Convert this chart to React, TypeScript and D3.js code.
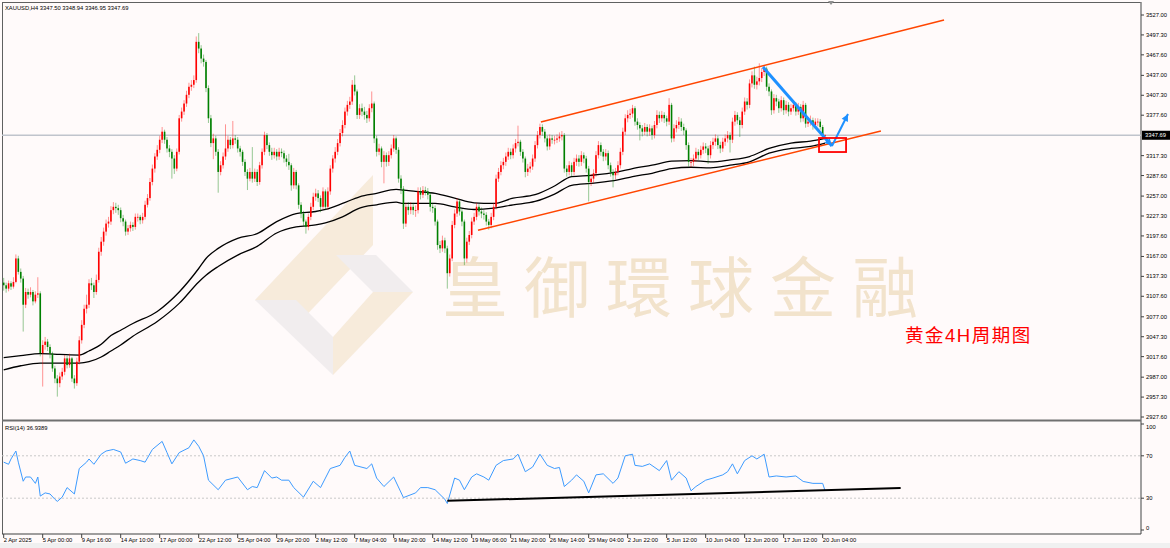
import * as d3 from 'd3';

// chart data: XAUUSD H4, 2 Apr 2025 - 20 Jun 2025
const firstOpen = 3128;
const closes = [
  3124, 3119, 3127, 3122, 3129, 3164, 3144, 3134, 3095, 3114, 3110, 3114, 3100, 3110, 3112, 3023,
  3035, 3040, 3032, 3022, 3000, 2985, 2978, 2988, 2995, 3015, 3005, 3015, 2985, 2978, 3010, 3042,
  3065, 3089, 3095, 3127, 3124, 3114, 3132, 3174, 3189, 3204, 3216, 3219, 3236, 3241, 3239, 3236,
  3224, 3219, 3204, 3209, 3214, 3211, 3226, 3226, 3221, 3226, 3244, 3254, 3278, 3298, 3316, 3326,
  3341, 3353, 3341, 3328, 3323, 3313, 3298, 3323, 3373, 3383, 3395, 3408, 3420, 3423, 3430, 3487,
  3477, 3462, 3457, 3418, 3373, 3336, 3343, 3323, 3293, 3303, 3316, 3328, 3341, 3333, 3343, 3341,
  3328, 3323, 3308, 3293, 3283, 3293, 3283, 3293, 3278, 3303, 3323, 3348, 3333, 3323, 3318, 3323,
  3316, 3323, 3321, 3313, 3308, 3303, 3273, 3293, 3273, 3244, 3231, 3219, 3211, 3226, 3241, 3256,
  3261, 3254, 3241, 3264, 3241, 3264, 3298, 3313, 3323, 3336, 3351, 3363, 3383, 3393, 3398, 3423,
  3413, 3378, 3388, 3383, 3378, 3373, 3388, 3395, 3343, 3323, 3328, 3308, 3318, 3308, 3318, 3328,
  3343, 3326, 3283, 3268, 3216, 3241, 3236, 3241, 3236, 3236, 3264, 3259, 3266, 3264, 3259, 3241,
  3239, 3219, 3184, 3179, 3191, 3179, 3142, 3164, 3214, 3231, 3249, 3234, 3219, 3164, 3189, 3199,
  3219, 3226, 3241, 3234, 3231, 3229, 3219, 3214, 3226, 3241, 3283, 3293, 3303, 3308, 3316, 3323,
  3318, 3328, 3336, 3338, 3323, 3313, 3293, 3298, 3301, 3313, 3333, 3348, 3360, 3353, 3343, 3331,
  3343, 3341, 3341, 3343, 3346, 3348, 3298, 3293, 3303, 3293, 3308, 3313, 3308, 3318, 3313, 3298,
  3278, 3283, 3291, 3318, 3333, 3323, 3316, 3321, 3303, 3293, 3288, 3293, 3303, 3323, 3353, 3373,
  3378, 3380, 3388, 3368, 3363, 3358, 3353, 3360, 3353, 3358, 3348, 3363, 3378, 3373, 3378, 3373,
  3368, 3393, 3343, 3358, 3363, 3368, 3360, 3355, 3333, 3308, 3308, 3313, 3323, 3318, 3326, 3331,
  3328, 3318, 3333, 3338, 3343, 3333, 3328, 3338, 3343, 3348, 3341, 3368, 3378, 3370, 3363, 3383,
  3398, 3393, 3425, 3437, 3423, 3428, 3433, 3442, 3447, 3420, 3413, 3385, 3403, 3398, 3388, 3400,
  3385, 3393, 3383, 3388, 3393, 3383, 3390, 3373, 3393, 3365, 3368, 3370, 3363, 3368, 3368, 3360,
  3347.5, 3347.69,
];
const highs = [
  3135, 3128, 3131, 3130, 3136, 3170, 3168, 3149, 3138, 3120, 3119, 3121, 3117, 3115, 3136, 3115,
  3042, 3047, 3044, 3036, 3025, 3004, 2990, 2994, 3001, 3020, 3019, 3022, 3017, 2990, 3016, 3048,
  3072, 3095, 3110, 3133, 3135, 3128, 3140, 3180, 3196, 3210, 3222, 3226, 3242, 3248, 3247, 3244,
  3240, 3229, 3222, 3214, 3219, 3218, 3231, 3231, 3229, 3232, 3250, 3260, 3284, 3304, 3321, 3333,
  3347, 3360, 3356, 3345, 3333, 3327, 3318, 3328, 3378, 3389, 3400, 3414, 3426, 3430, 3437, 3495,
  3500, 3482, 3468, 3460, 3422, 3378, 3350, 3347, 3327, 3309, 3322, 3364, 3347, 3345, 3369, 3348,
  3345, 3332, 3326, 3312, 3297, 3299, 3330, 3298, 3297, 3308, 3328, 3353, 3351, 3337, 3329, 3329,
  3327, 3329, 3328, 3325, 3318, 3320, 3306, 3299, 3296, 3276, 3248, 3235, 3222, 3231, 3247, 3262,
  3268, 3266, 3258, 3270, 3267, 3270, 3303, 3318, 3330, 3342, 3357, 3370, 3389, 3399, 3405, 3430,
  3437, 3416, 3394, 3395, 3390, 3384, 3394, 3413, 3398, 3347, 3335, 3331, 3324, 3322, 3324, 3334,
  3348, 3346, 3330, 3288, 3272, 3247, 3248, 3248, 3247, 3243, 3270, 3270, 3272, 3271, 3269, 3263,
  3247, 3243, 3222, 3190, 3198, 3195, 3183, 3170, 3220, 3237, 3254, 3252, 3238, 3222, 3195, 3205,
  3225, 3232, 3247, 3245, 3240, 3236, 3233, 3223, 3232, 3247, 3289, 3299, 3309, 3314, 3322, 3329,
  3328, 3334, 3342, 3362, 3341, 3327, 3316, 3305, 3308, 3319, 3339, 3354, 3365, 3364, 3357, 3347,
  3349, 3348, 3347, 3349, 3352, 3354, 3351, 3303, 3309, 3307, 3314, 3319, 3318, 3324, 3322, 3317,
  3302, 3290, 3297, 3324, 3339, 3337, 3327, 3327, 3325, 3307, 3297, 3299, 3309, 3329, 3359, 3379,
  3385, 3387, 3393, 3391, 3373, 3367, 3363, 3366, 3364, 3364, 3362, 3369, 3385, 3383, 3384, 3382,
  3377, 3403, 3396, 3364, 3370, 3375, 3373, 3365, 3358, 3337, 3314, 3319, 3329, 3327, 3332, 3337,
  3336, 3332, 3339, 3344, 3349, 3347, 3338, 3344, 3349, 3354, 3352, 3374, 3384, 3382, 3375, 3389,
  3404, 3403, 3431, 3443, 3450, 3435, 3455, 3448, 3451, 3450, 3425, 3416, 3409, 3408, 3402, 3406,
  3404, 3399, 3397, 3394, 3399, 3397, 3396, 3394, 3399, 3396, 3374, 3377, 3374, 3373, 3373, 3372,
  3363, 3348.94,
];
const lows = [
  3116, 3113, 3115, 3117, 3119, 3127, 3140, 3128, 3055, 3090, 3104, 3106, 3094, 3097, 3105, 3018,
  2973, 3028, 3026, 3015, 2995, 2978, 2958, 2972, 2983, 2990, 3000, 3001, 2980, 2970, 2974, 3006,
  3037, 3060, 3082, 3090, 3117, 3105, 3110, 3128, 3168, 3183, 3198, 3210, 3214, 3230, 3232, 3229,
  3218, 3212, 3198, 3199, 3204, 3205, 3207, 3219, 3215, 3216, 3222, 3240, 3250, 3273, 3292, 3311,
  3321, 3336, 3335, 3322, 3315, 3283, 3290, 3294, 3319, 3368, 3378, 3390, 3403, 3414, 3418, 3426,
  3470, 3455, 3450, 3412, 3366, 3330, 3312, 3317, 3262, 3288, 3298, 3311, 3323, 3327, 3328, 3335,
  3322, 3316, 3302, 3287, 3266, 3279, 3277, 3278, 3272, 3274, 3298, 3318, 3327, 3317, 3311, 3313,
  3310, 3311, 3315, 3307, 3301, 3296, 3265, 3268, 3267, 3238, 3224, 3212, 3201, 3206, 3221, 3236,
  3250, 3248, 3233, 3237, 3236, 3237, 3259, 3292, 3307, 3318, 3331, 3346, 3358, 3377, 3387, 3393,
  3407, 3372, 3372, 3376, 3371, 3366, 3368, 3382, 3336, 3316, 3318, 3300, 3276, 3301, 3302, 3313,
  3323, 3320, 3277, 3260, 3208, 3211, 3229, 3230, 3229, 3226, 3231, 3252, 3254, 3258, 3252, 3234,
  3232, 3213, 3177, 3172, 3174, 3172, 3119, 3137, 3160, 3209, 3226, 3228, 3212, 3154, 3158, 3184,
  3194, 3214, 3221, 3228, 3224, 3222, 3213, 3207, 3209, 3221, 3237, 3278, 3288, 3297, 3302, 3311,
  3312, 3313, 3322, 3331, 3317, 3307, 3285, 3287, 3292, 3296, 3308, 3328, 3343, 3347, 3337, 3325,
  3326, 3335, 3334, 3336, 3338, 3340, 3292, 3286, 3288, 3286, 3288, 3302, 3301, 3302, 3306, 3292,
  3249, 3272, 3277, 3286, 3313, 3317, 3309, 3310, 3297, 3286, 3270, 3282, 3288, 3298, 3318, 3348,
  3367, 3372, 3374, 3362, 3356, 3340, 3346, 3348, 3346, 3347, 3341, 3343, 3358, 3366, 3368, 3366,
  3361, 3363, 3337, 3338, 3352, 3357, 3354, 3348, 3326, 3301, 3300, 3302, 3308, 3311, 3313, 3320,
  3321, 3305, 3313, 3327, 3332, 3327, 3321, 3323, 3332, 3337, 3322, 3336, 3362, 3364, 3345, 3358,
  3378, 3386, 3388, 3419, 3417, 3416, 3422, 3427, 3436, 3414, 3406, 3378, 3380, 3391, 3381, 3383,
  3378, 3380, 3376, 3378, 3383, 3377, 3378, 3367, 3368, 3359, 3360, 3362, 3356, 3357, 3361, 3356,
  3343, 3346.95,
];

// moving averages (two black bands)
const maBars = [0, 7, 15, 23, 31, 35, 40, 44, 48, 53, 63, 72, 80, 83, 88, 96, 104, 112, 120, 128,
  132, 139, 146, 153, 161, 164, 169, 177, 185, 193, 201, 209, 218, 226, 233, 241, 252, 258, 266,
  274, 282, 290, 298, 306, 314, 323, 331, 337];
const maHigh = [3016, 3019, 3022, 3021, 3020, 3026, 3036, 3049, 3057, 3067, 3085, 3114, 3149, 3164,
  3179, 3194, 3201, 3219, 3231, 3234, 3237, 3246, 3256, 3261, 3267, 3266, 3264, 3261, 3254, 3247,
  3246, 3254, 3259, 3272, 3286, 3288, 3293, 3298, 3303, 3309, 3310, 3308, 3311, 3316, 3328, 3336,
  3339, 3343];
const maLow = [2998, 3004, 3008, 3008, 3008, 3010, 3017, 3026, 3035, 3048, 3070, 3097, 3129, 3139,
  3152, 3169, 3182, 3202, 3211, 3214, 3217, 3226, 3239, 3244, 3248, 3246, 3246, 3246, 3241, 3237,
  3239, 3244, 3249, 3260, 3273, 3276, 3281, 3286, 3291, 3298, 3300, 3299, 3303, 3308, 3321, 3328,
  3331, 3336];

// RSI(14)
const rsiBars = [0, 2, 3, 5, 6, 8, 9, 11, 13, 14, 15, 17, 19, 21, 22, 24, 26, 29, 31, 34, 35, 37, 40,
  42, 45, 48, 50, 53, 56, 58, 61, 65, 67, 69, 72, 76, 78, 80, 82, 84, 88, 91, 96, 100, 102, 104,
  107, 110, 112, 114, 117, 119, 123, 127, 130, 132, 134, 138, 140, 142, 144, 149, 151, 153, 156,
  160, 164, 169, 171, 174, 177, 181, 182, 185, 187, 189, 192, 194, 197, 199, 202, 205, 209, 211,
  214, 217, 220, 223, 226, 228, 230, 233, 235, 238, 240, 243, 246, 250, 252, 255, 258, 259, 262,
  265, 269, 272, 274, 277, 280, 282, 284, 288, 291, 295, 297, 299, 301, 304, 307, 309, 312, 314,
  317, 321, 325, 328, 332, 336, 337];
const rsiValues = [64, 62, 67, 74.5, 64, 46, 50, 50, 44, 50, 32, 35, 34, 29, 27, 31, 40, 34, 58, 64,
  67, 62, 71.5, 74.5, 76, 73.6, 63, 67, 65.5, 64, 76, 83.6, 73, 62.4, 73, 77.6, 85, 79, 70, 47, 38,
  47, 50, 38, 41, 40, 56, 49, 50, 47, 47, 40, 31, 46, 40, 49, 58, 61, 68.5, 74.5, 61, 58, 62.4, 49,
  41, 50, 30.6, 35, 40, 40, 38, 29, 25, 49, 47, 38, 50, 53, 50, 47, 61, 65.5, 67, 71.5, 55, 59.4,
  71.5, 61, 58, 59, 41, 47, 52, 46, 35, 52, 53, 44, 49, 70, 71.5, 61, 60, 62.4, 56, 65.5, 47, 55,
  49, 37, 41, 47, 49, 52, 55, 62.4, 53, 65.5, 70, 67, 71.5, 50, 51, 50, 51, 45.8, 44, 44, 36.94];

const priceTicks = [3527.0, 3497.3, 3467.6, 3437.0, 3407.3, 3377.6, 3317.3, 3287.6, 3257.0, 3227.3,
  3197.6, 3167.0, 3137.3, 3107.6, 3077.0, 3047.3, 3017.6, 2987.0, 2957.3, 2927.6];
const rsiTicks = [100, 70, 30, 0];
const timeLabels = ['2 Apr 2025', '5 Apr 00:00', '9 Apr 16:00', '14 Apr 10:00', '17 Apr 00:00',
  '22 Apr 12:00', '25 Apr 04:00', '29 Apr 20:00', '2 May 12:00', '7 May 04:00', '9 May 20:00',
  '14 May 12:00', '19 May 06:00', '21 May 20:00', '26 May 14:00', '29 May 04:00', '2 Jun 22:00',
  '5 Jun 12:00', '10 Jun 04:00', '12 Jun 20:00', '17 Jun 12:00', '20 Jun 04:00'];
const barsPerLabel = 16;
const lastPrice = 3347.69;

// drawn objects, in [bar, price]
const channelLow: [number, number][] = [[194.6, 3206], [359.9, 3354]];
const channelHigh: [number, number][] = [[220.4, 3367.5], [385.8, 3519.5]];
const arrowDown: [number, number][] = [[311.5, 3449.5], [339.8, 3331.7]];
const arrowUp: [number, number][] = [[339.8, 3331.7], [346.4, 3379.4]];
const boxBars = [334.5, 345.6];
const boxPrices = [3322.7, 3343.6];
const rsiTrend: [number, number][] = [[182, 27.5], [368, 39.6]];

const W = 1170, H = 548;
const axisX = 1141;
const font = '"Liberation Sans", Arial, sans-serif';
const cjkFont = '"Liberation Sans", "Noto Sans CJK TC", "Noto Sans CJK SC", sans-serif';
const bg = '#fffafa';
const upColor = '#ff0000';
const downColor = '#008000';

export default function App() {
  const x = d3.scaleLinear().domain([0, 337]).range([3.7, 825.1]);
  const y = d3.scaleLinear().domain([2927.6, 3527]).range([417, 15]);
  const yr = d3.scaleLinear().domain([0, 100]).range([530, 424]);

  const candles = closes.map((c, i) => ({
    i, o: i === 0 ? firstOpen : closes[i - 1], c, h: highs[i], l: lows[i],
  }));

  const priceLine = d3.line<[number, number]>().x(d => x(d[0])).y(d => y(d[1]));
  const maLine = d3.line<number>().x((_, k) => x(maBars[k])).curve(d3.curveMonotoneX);
  const rsiLine = d3.line<number>().x((_, k) => x(rsiBars[k])).y(d => yr(d));
  const rsiTrendLine = d3.line<[number, number]>().x(d => x(d[0])).y(d => yr(d[1]));

  const arrowHead = (from: [number, number], to: [number, number]) => {
    const x1 = x(from[0]), y1 = y(from[1]), x2 = x(to[0]), y2 = y(to[1]);
    const a = Math.atan2(y2 - y1, x2 - x1);
    const len = 8, spread = 0.45;
    return `M${x2},${y2}L${x2 - len * Math.cos(a - spread)},${y2 - len * Math.sin(a - spread)}` +
      `L${x2 - len * Math.cos(a + spread)},${y2 - len * Math.sin(a + spread)}Z`;
  };

  return (
    <svg width={W} height={H} style={{position: 'fixed', left: 0, top: 0, background: bg}}
         fontFamily={font}>
      <rect x={0} y={0} width={W} height={H} fill={bg} />
      <rect x={0} y={543} width={W} height={5} fill="#f0f0f0" />

      {/* watermark logo */}
      <g opacity={0.55}>
        <polygon points="255,300 373,175 373,245 296,326" fill="#f1dfc2" />
        <polygon points="336,255 376,255 413,292 373,292" fill="#e6e3e6" />
        <polygon points="373,292 413,292 333,375 333,337" fill="#f1dfc2" />
        <polygon points="255,300 296,300 333,337 333,375" fill="#e6e3e6" />
      </g>
      <text x={442} y={312} fontSize={66} letterSpacing={16} fill="#f2e3cc"
            fontFamily={cjkFont}>皇御環球金融</text>

      {/* frame */}
      <line x1={2} x2={axisX} y1={2.5} y2={2.5} stroke="#606060" />
      <line x1={2.5} x2={2.5} y1={2} y2={534} stroke="#606060" />
      <line x1={axisX} x2={axisX} y1={2} y2={534} stroke="#808080" strokeWidth={1.5} />
      <line x1={2} x2={axisX} y1={420.5} y2={420.5} stroke="#707070" strokeWidth={2} />
      <line x1={2} x2={axisX} y1={534} y2={534} stroke="#404040" strokeWidth={1.2} />
      <path d="M828,1L834,1L831,5Z" fill="#909090" />

      {/* current price line */}
      <line x1={2} x2={axisX} y1={y(lastPrice)} y2={y(lastPrice)} stroke="#c0c4cc" strokeWidth={1.5} />

      {/* moving averages */}
      <path d={maLine.y(d => y(d))(maHigh) ?? ''} fill="none" stroke="#000" strokeWidth={1.3} />
      <path d={maLine.y(d => y(d))(maLow) ?? ''} fill="none" stroke="#000" strokeWidth={1.3} />

      {/* candles */}
      {candles.map(d => {
        const col = d.c >= d.o ? upColor : downColor;
        const top = y(Math.max(d.o, d.c)), bot = y(Math.min(d.o, d.c));
        return (
          <g key={d.i}>
            <line x1={x(d.i)} x2={x(d.i)} y1={y(d.h)} y2={y(d.l)} stroke={col} strokeWidth={0.7}
                  strokeOpacity={0.6} />
            <rect x={x(d.i) - 0.8} y={top} width={1.6} height={Math.max(bot - top, 0.8)} fill={col} />
          </g>
        );
      })}

      {/* channel */}
      <path d={priceLine(channelLow) ?? ''} stroke="#ff4500" strokeWidth={1.5} fill="none" />
      <path d={priceLine(channelHigh) ?? ''} stroke="#ff4500" strokeWidth={1.5} fill="none" />

      {/* arrows */}
      <path d={priceLine(arrowDown) ?? ''} stroke="#1e90ff" strokeWidth={3} fill="none" />
      <path d={arrowHead(arrowDown[0], arrowDown[1])} fill="#1e90ff" />
      <path d={priceLine(arrowUp) ?? ''} stroke="#1e90ff" strokeWidth={2} fill="none" />
      <path d={arrowHead(arrowUp[0], arrowUp[1])} fill="#1e90ff" />
      <rect x={x(boxBars[0])} y={y(boxPrices[1])} width={x(boxBars[1]) - x(boxBars[0])}
            height={y(boxPrices[0]) - y(boxPrices[1])} fill="none" stroke="#ff0000" strokeWidth={1.8} />

      <text x={905} y={342} fontSize={18.5} letterSpacing={1.5} fill="#ff0000"
            fontFamily={cjkFont}>黄金4H周期图</text>

      {/* header */}
      <text x={5} y={9.5} fontSize={5.8} fill="#000">XAUUSD,H4  3347.50 3348.94 3346.95 3347.69</text>

      {/* price axis */}
      {priceTicks.map(p => (
        <g key={p}>
          <line x1={axisX} x2={axisX + 3} y1={y(p)} y2={y(p)} stroke="#404040" />
          <text x={axisX + 5} y={y(p) + 2} fontSize={5.8} fill="#000">{p.toFixed(2)}</text>
        </g>
      ))}
      <rect x={axisX + 1} y={y(lastPrice) - 4.5} width={W - axisX - 1} height={9} fill="#000" />
      <text x={axisX + 4} y={y(lastPrice) + 2} fontSize={5.8} fill="#fff">{lastPrice.toFixed(2)}</text>

      {/* RSI panel */}
      <text x={5} y={430} fontSize={5.8} fill="#000">RSI(14) 36.9389</text>
      {[70, 30].map(v => (
        <line key={v} x1={2} x2={axisX} y1={yr(v)} y2={yr(v)} stroke="#c8c8c8" strokeDasharray="2,2" />
      ))}
      <path d={rsiLine(rsiValues) ?? ''} fill="none" stroke="#3d9bff" strokeWidth={1} />
      <path d={rsiTrendLine(rsiTrend) ?? ''} fill="none" stroke="#000" strokeWidth={2} />
      {rsiTicks.map(v => (
        <g key={v}>
          <line x1={axisX} x2={axisX + 3} y1={yr(v)} y2={yr(v)} stroke="#404040" />
          <text x={axisX + 5} y={yr(v) + (v === 100 ? 5 : v === 0 ? 0 : 2)} fontSize={5.8}
                fill="#000">{v}</text>
        </g>
      ))}

      {/* time axis */}
      {timeLabels.map((t, k) => {
        const tx = x(k * barsPerLabel);
        return (
          <g key={t}>
            <line x1={tx} x2={tx} y1={534} y2={538} stroke="#404040" />
            <text x={tx} y={542} fontSize={5.8} fill="#000">{t}</text>
          </g>
        );
      })}
    </svg>
  );
}
